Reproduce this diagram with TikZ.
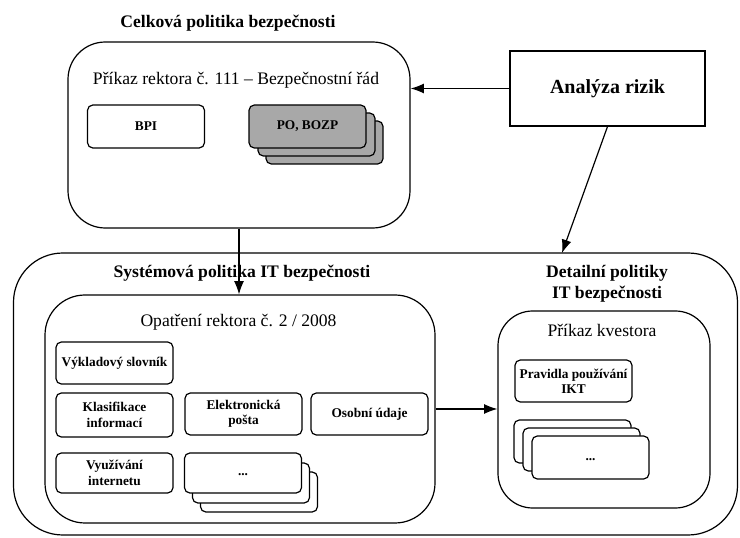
\documentclass[tikz,border=0pt]{standalone}
\usepackage{fontspec}
\setmainfont{Liberation Serif}
\usetikzlibrary{arrows}
\usetikzlibrary{arrows.meta}
\usetikzlibrary{shapes}
\definecolor{docgray}{HTML}{A8A8A8}

\begin{document}
\begin{tikzpicture}[>={Latex[length=10pt,width=7.5pt]}, x=0.75pt, y=-0.75pt, line width=0.9pt,
	every node/.style={inner sep=0pt, align=center},
	area/.style={rectangle, draw, rounded corners=28pt},
	doc/.style={rectangle, draw, fill=white, rounded corners=4pt, minimum width=87.75pt, minimum height=31.5pt, font=\fontsize{10}{11.5}\selectfont\bfseries},
	heading/.style={font=\fontsize{13.2}{16}\selectfont\bfseries},
	subheading/.style={font=\fontsize{13.2}{16}\selectfont}]
	\useasboundingbox (0,0) rectangle (740,538);
	%Celkova politika
	\node [heading] (celkovatitle) at (228,23) {Celková politika bezpečnosti};
	\node [area, minimum width=256.5pt, minimum height=139.5pt] (celkova) at (239,135) {};
	\node [subheading] (rektor) at (236,80) {Příkaz rektora č. 111 – Bezpečnostní řád};
	\node [doc, minimum height=32.25pt] (bpi) at (146,126.5) {BPI};
	\node [doc, fill=docgray, minimum height=32.25pt] (pobozp3) at (324.5,142.5) {};
	\node [doc, fill=docgray, minimum height=32.25pt] (pobozp2) at (316.5,134.5) {};
	\node [doc, fill=docgray, minimum height=32.25pt] (pobozp) at (307.5,126.5) {PO, BOZP};
	%Analyza rizik
	\node [rectangle, draw, minimum width=146.25pt, minimum height=56.25pt, font=\fontsize{15}{18}\selectfont\bfseries] (analyza) at (607.5,88.5) {Analýza rizik};
	%Systemova politika
	\node [area, rounded corners=37pt, minimum width=543pt, minimum height=211.5pt] (system) at (375.5,394) {};
	\node [heading] (systemtitle) at (242,273) {Systémová politika IT bezpečnosti};
	\node [area, rounded corners=30pt, minimum width=292.5pt, minimum height=171pt] (opatreni) at (240,409) {};
	\node [subheading] (opatrenititle) at (238.5,322) {Opatření rektora č. 2 / 2008};
	\node [doc] (slovnik) at (114.5,363) {Výkladový slovník};
	\node [doc, minimum height=33pt] (klasifikace) at (114.5,415) {Klasifikace\\informací};
	\node [doc] (posta) at (243.5,414) {Elektronická\\pošta};
	\node [doc] (osobni) at (369.5,414) {Osobní údaje};
	\node [doc, minimum height=30pt] (internet) at (114.5,473) {Využívání\\internetu};
	\node [doc, minimum height=30pt] (dotsleft3) at (259,492) {};
	\node [doc, minimum height=30pt] (dotsleft2) at (251,483) {};
	\node [doc, minimum height=30pt] (dotsleft) at (243,473) {\vphantom{Ag}...};
	%Detailni politiky
	\node [heading] (detailtitle) at (607,284) {Detailní politiky\\IT bezpečnosti};
	\node [area, rounded corners=26pt, minimum width=159pt, minimum height=147.75pt] (kvestor) at (604,409.5) {};
	\node [subheading] (kvestortitle) at (602,330) {Příkaz kvestora};
	\node [doc] (pravidla) at (573.5,381) {Pravidla používání\\IKT};
	\node [doc, minimum height=32.25pt] (dotsright3) at (572.5,441.5) {};
	\node [doc, minimum height=32.25pt] (dotsright2) at (581.5,449.5) {};
	\node [doc, minimum height=32.25pt] (dotsright) at (590.5,457.5) {\vphantom{Ag}...};
	%Arrows
	\coordinate (systemin) at (562,253);
	\draw[->] (analyza.west) -- (analyza.west -| celkova.east);
	\draw[->] (analyza.south) -- (systemin);
	\draw[->] (celkova.south) -- (celkova.south |- opatreni.north);
	\draw[->] (opatreni.east) -- (opatreni.east -| kvestor.west);
\end{tikzpicture}
\end{document}
